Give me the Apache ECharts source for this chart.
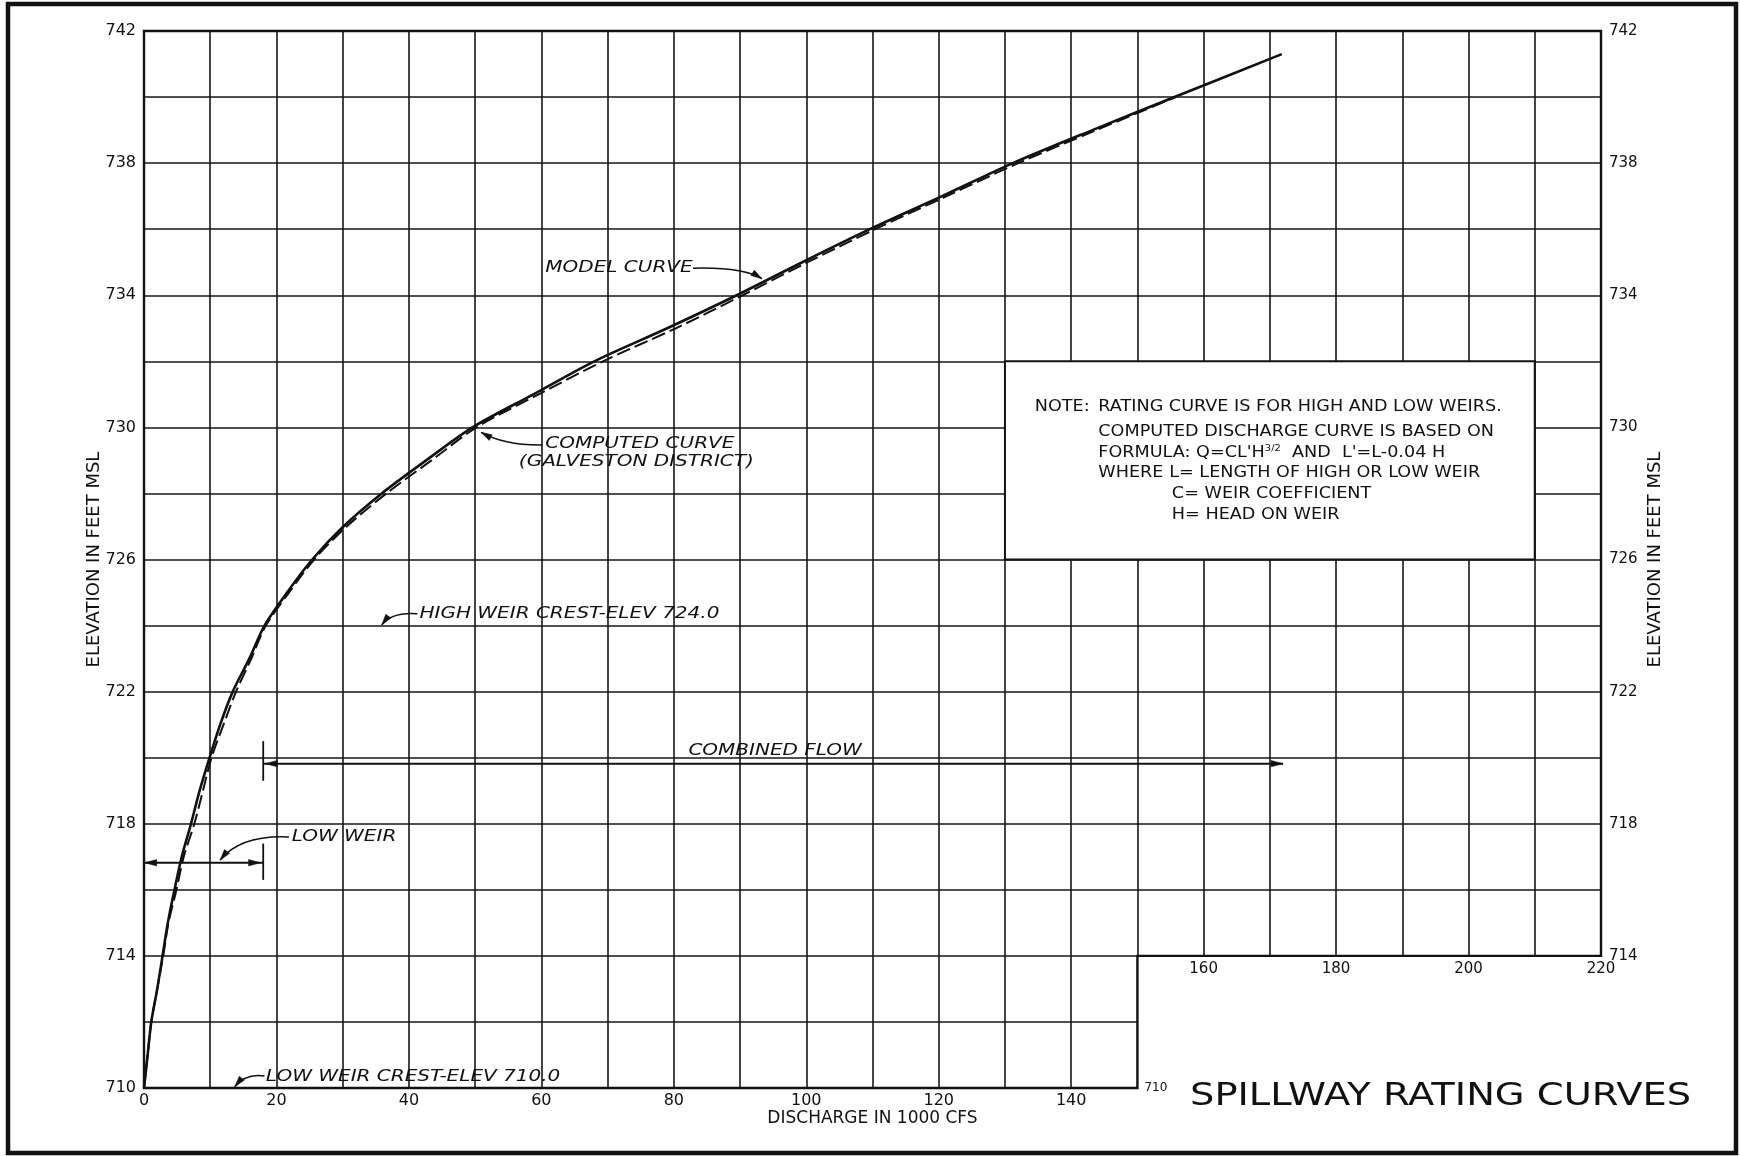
<!DOCTYPE html>
<html>
<head>
<meta charset="utf-8">
<script src="https://cdn.jsdelivr.net/npm/echarts@6/dist/echarts.min.js"></script>
<style>
html,body{margin:0;padding:0;background:#fff;}
#chart{width:1740px;height:1156px;}
</style>
</head>
<body>
<div id="chart"></div>
<script>
// ================= DATA =================
// Model curve (solid): elevation (ft MSL) and discharge (1000 cfs)
const modelElevation = [710,711,712,713,714,715,716,717,718,719,720,721,722,723,724,725,726,727,728,729,730,731,732,733,734,735,736,737,738,739,740,741.3];
const modelDischarge = [0,0.55,1.1,2.0,2.8,3.6,4.6,5.7,7.1,8.4,9.9,11.5,13.4,15.9,18.2,21.6,25.4,30.1,35.9,42.6,49.6,58.8,68.0,79.0,89.5,99.4,109.6,120.5,131.2,143.2,155.6,171.8];
// Computed curve (dashed, Galveston District)
const computedElevation = [710,711,712,713,714,715,716,717,718,719,720,721,722,723,724,725,726,727,728,729,730,731,732,733,734,735,736,737,738,739,740];
const computedDischarge = [0,0.55,1.1,2.0,2.9,3.7,4.9,6.0,7.6,8.9,10.2,12.0,13.9,16.2,18.4,21.9,25.7,30.6,36.6,43.4,50.2,59.6,69.3,80.3,90.4,100.2,110.4,121.2,132.0,143.8,155.8];
// Tick labels
const xTickLabelsLower = [0,20,40,60,80,100,120,140];
const xTickLabelsUpper = [160,180,200,220];
const yTickLabelsLeft = [710,714,718,722,726,730,734,738,742];
const yTickLabelsRight = [714,718,722,726,730,734,738,742];
const yTickLabelCut = [710];

// ================= LAYOUT =================
const W = 1740, H = 1156;
const GRID = {left:144, right:139, top:31, bottom:68};
const X_MIN = 0, X_MAX = 220, X_STEP = 10;
const Y_MIN = 710, Y_MAX = 742, Y_STEP = 2;
const CUT_X = 150, CUT_Y = 714;           // lower-right notch of the grid
const NOTE_BOX = [[130,726],[210,732]];
const gridW = W - GRID.left - GRID.right;
const gridH = H - GRID.top - GRID.bottom;
const pxPerX = gridW / (X_MAX - X_MIN);
const pxPerY = gridH / (Y_MAX - Y_MIN);
const INK = '#111';
const FONT = 'DejaVu Sans';
const GRID_LINE = {color:'#161616', width:1.6};

const chart = echarts.init(document.getElementById('chart'), null, {renderer:'canvas', width:W, height:H});

const zip = (xs, ys) => xs.map((x,i) => [x, ys[i]]);
const tickFmt = list => v => list.indexOf(Math.round(v*1000)/1000) >= 0 ? String(v) : '';

const option = {
  backgroundColor: '#fff',
  animation: false,
  grid: {left:GRID.left, right:GRID.right, top:GRID.top, bottom:GRID.bottom, containLabel:false, show:false},
  xAxis: [
    {
      type:'value', min:X_MIN, max:X_MAX, interval:X_STEP, position:'bottom',
      axisLine:{show:false}, axisTick:{show:false},
      splitLine:{show:true, showMinLine:false, showMaxLine:false, lineStyle:GRID_LINE},
      axisLabel:{formatter: tickFmt(xTickLabelsLower), fontSize:16, fontFamily:FONT, color:INK, margin:5},
      name:'DISCHARGE IN 1000 CFS', nameLocation:'middle', nameGap:22, nameMoveOverlap:false,
      nameTextStyle:{fontSize:17, fontFamily:FONT, color:INK}
    },
    {
      type:'value', min:X_MIN, max:X_MAX, interval:X_STEP, position:'bottom',
      offset: -(CUT_Y - Y_MIN) * pxPerY, z:10,
      axisLine:{show:false}, axisTick:{show:false}, splitLine:{show:false},
      axisLabel:{formatter: tickFmt(xTickLabelsUpper), fontSize:15, fontFamily:FONT, color:INK, margin:6}
    }
  ],
  yAxis: [
    {
      type:'value', min:Y_MIN, max:Y_MAX, interval:Y_STEP, position:'left',
      axisLine:{show:false}, axisTick:{show:false},
      splitLine:{show:true, showMinLine:false, showMaxLine:false, lineStyle:GRID_LINE},
      axisLabel:{formatter: tickFmt(yTickLabelsLeft), fontSize:16, fontFamily:FONT, color:INK, margin:8},
      name:'ELEVATION IN FEET MSL', nameLocation:'middle', nameRotate:90, nameGap:41, nameMoveOverlap:false,
      nameTextStyle:{fontSize:18, fontFamily:FONT, color:INK}
    },
    {
      type:'value', min:Y_MIN, max:Y_MAX, interval:Y_STEP, position:'right',
      axisLine:{show:false}, axisTick:{show:false}, splitLine:{show:false},
      axisLabel:{formatter: tickFmt(yTickLabelsRight), fontSize:15, fontFamily:FONT, color:INK, margin:8},
      name:'ELEVATION IN FEET MSL', nameLocation:'middle', nameRotate:90, nameGap:45, nameMoveOverlap:false,
      nameTextStyle:{fontSize:18, fontFamily:FONT, color:INK}
    },
    {
      type:'value', min:Y_MIN, max:Y_MAX, interval:Y_STEP, position:'right',
      offset: -(X_MAX - CUT_X) * pxPerX, z:10,
      axisLine:{show:false}, axisTick:{show:false}, splitLine:{show:false},
      axisLabel:{formatter: tickFmt(yTickLabelCut), fontSize:12, fontFamily:FONT, color:INK, margin:7, verticalAlign:'middle'}
    }
  ],
  series: [
    {
      name:'Model curve', type:'line', xAxisIndex:0, yAxisIndex:0,
      data: zip(modelDischarge, modelElevation),
      symbol:'none', smooth:0.3, z:3,
      lineStyle:{color:INK, width:2.6},
      markArea:{
        silent:true, label:{show:false},
        data:[
          [{coord:[CUT_X, Y_MIN], itemStyle:{color:'#fff', opacity:1, borderWidth:0}}, {coord:[X_MAX, CUT_Y]}],
          [{coord:NOTE_BOX[0], itemStyle:{color:'#fff', opacity:1, borderColor:INK, borderWidth:2}}, {coord:NOTE_BOX[1]}]
        ]
      }
    },
    {
      name:'Computed curve', type:'line', xAxisIndex:0, yAxisIndex:0,
      data: zip(computedDischarge, computedElevation),
      symbol:'none', smooth:0.3, z:3,
      lineStyle:{color:INK, width:2, type:[14,5]}
    }
  ]
};
chart.setOption(option);

// ================= ANNOTATIONS (layout, in data units) =================
const labels = [
  {text:'MODEL CURVE', at:[60.6, 734.82]},
  {text:'COMPUTED CURVE', at:[60.6, 729.5]},
  {text:'(GALVESTON DISTRICT)', at:[56.6, 728.95]},
  {text:'HIGH WEIR CREST-ELEV 724.0', at:[41.6, 724.36]},
  {text:'COMBINED FLOW', at:[82.2, 720.2]},
  {text:'LOW WEIR', at:[22.3, 717.6]},
  {text:'LOW WEIR CREST-ELEV 710.0', at:[18.4, 710.33]}
];
const leaders = [
  {s:[82.9, 734.82], c:[90.5, 734.86], e:[93.3, 734.5]},
  {s:[60.2, 729.47], c:[54.5, 729.45], e:[50.9, 729.85]},
  {s:[41.3, 724.36], c:[37.4, 724.42], e:[35.9, 724.02]},
  {s:[21.9, 717.6],  c:[14.5, 717.66], e:[11.5, 716.9]},
  {s:[18.2, 710.36], c:[15.4, 710.45], e:[13.7, 710.04]}
];
const dims = [
  {y:716.82, x1:0, x2:18, tipL:0.1, tipR:17.6, bar:[18, 716.3, 717.4]},
  {y:719.82, x1:18, x2:172, tipL:18.3, tipR:172, bar:[18, 719.3, 720.5]}
];
const noteLines = [
  {text:'NOTE:', at:[134.5, 730.63]},
  {text:'RATING CURVE IS FOR HIGH AND LOW WEIRS.', at:[144.1, 730.63]},
  {text:'COMPUTED DISCHARGE CURVE IS BASED ON', at:[144.1, 729.87]},
  {text:"FORMULA: Q=CL'H{s|3/2}  AND  L'=L-0.04 H", at:[144.1, 729.24]},
  {text:'WHERE', at:[144.1, 728.61]},
  {text:'L= LENGTH OF HIGH OR LOW WEIR', at:[154.8, 728.61]},
  {text:'C= WEIR COEFFICIENT', at:[155.2, 727.98]},
  {text:'H= HEAD ON WEIR', at:[155.2, 727.35]}
];

function buildGraphics() {
  const P = (x, y) => chart.convertToPixel({seriesIndex:0}, [x, y]);
  const g = [];
  // sheet frame
  g.push({type:'rect', z:100, silent:true, shape:{x:8, y:4, width:1728, height:1149},
          style:{fill:'none', stroke:INK, lineWidth:4.5}});
  // plot frame with stepped notch
  const fr = [[X_MIN,Y_MAX],[X_MAX,Y_MAX],[X_MAX,CUT_Y],[CUT_X,CUT_Y],[CUT_X,Y_MIN],[X_MIN,Y_MIN]].map(p => P(p[0], p[1]));
  g.push({type:'polygon', z:100, silent:true, shape:{points:fr}, style:{fill:'none', stroke:INK, lineWidth:2.4}});

  const textEl = (t, px, opt) => ({
    type:'text', z:102, silent:true, x:px[0], y:px[1], scaleX:opt.scaleX || 1,
    style:Object.assign({
      text:t, fill:INK, fontSize:opt.size, fontFamily:FONT, fontStyle:opt.style || 'normal',
      align:'left', verticalAlign:'middle', textAlign:'left', textVerticalAlign:'middle'
    }, opt.extra || {})
  });
  const arrowHead = (tip, from, len, half) => {
    const dx = tip[0]-from[0], dy = tip[1]-from[1];
    const d = Math.hypot(dx, dy) || 1, ux = dx/d, uy = dy/d;
    const bx = tip[0]-ux*len, by = tip[1]-uy*len;
    return {type:'polygon', z:101, silent:true,
            shape:{points:[tip, [bx-uy*half, by+ux*half], [bx+uy*half, by-ux*half]]},
            style:{fill:INK, stroke:INK, lineWidth:0.5}};
  };

  labels.forEach(l => g.push(textEl(l.text, P(l.at[0], l.at[1]), {size:16, style:'italic', scaleX:1.25})));

  leaders.forEach(l => {
    const s = P(l.s[0], l.s[1]), c = P(l.c[0], l.c[1]), e = P(l.e[0], l.e[1]);
    g.push({type:'bezierCurve', z:101, silent:true,
            shape:{x1:s[0], y1:s[1], x2:e[0], y2:e[1], cpx1:c[0], cpy1:c[1]},
            style:{stroke:INK, lineWidth:1.5, fill:'none'}});
    g.push(arrowHead(e, c, 11, 3.2));
  });

  dims.forEach(d => {
    const a = P(d.x1, d.y), b = P(d.x2, d.y);
    g.push({type:'line', z:101, silent:true, shape:{x1:a[0], y1:a[1], x2:b[0], y2:b[1]},
            style:{stroke:INK, lineWidth:2}});
    const tl = P(d.tipL, d.y), tr = P(d.tipR, d.y);
    g.push(arrowHead(tl, [tl[0]+10, tl[1]], 12, 3.2));
    g.push(arrowHead(tr, [tr[0]-10, tr[1]], 12, 3.2));
    const b1 = P(d.bar[0], d.bar[1]), b2 = P(d.bar[0], d.bar[2]);
    g.push({type:'line', z:101, silent:true, shape:{x1:b1[0], y1:b1[1], x2:b2[0], y2:b2[1]},
            style:{stroke:INK, lineWidth:1.8}});
  });

  noteLines.forEach(n => g.push(textEl(n.text, P(n.at[0], n.at[1]), {
    size:16, scaleX:1.1,
    extra:{rich:{s:{fontSize:9, fontFamily:FONT, fill:INK, verticalAlign:'top'}}}
  })));

  // drawing title
  g.push(textEl('SPILLWAY RATING CURVES', [1190, 1097], {size:32, scaleX:1.2}));
  return g;
}
chart.setOption({graphic: buildGraphics()});
</script>
</body>
</html>
